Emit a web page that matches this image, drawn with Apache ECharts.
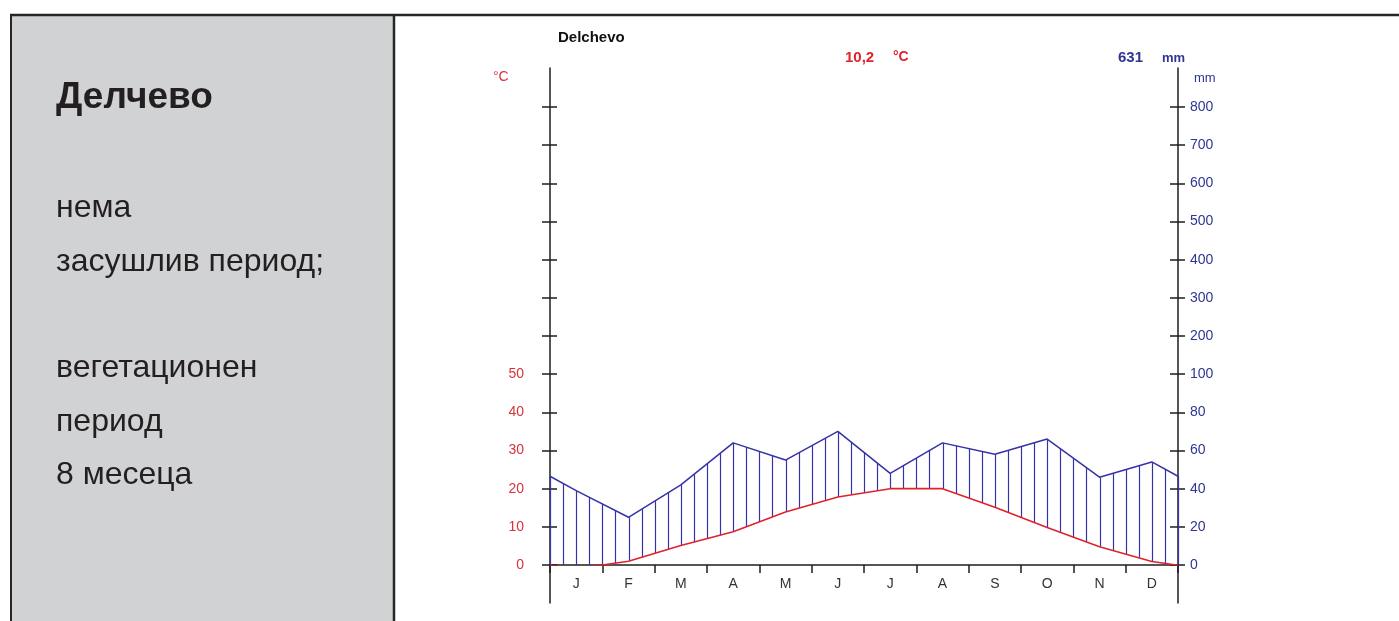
<!DOCTYPE html>
<html>
<head>
<meta charset="utf-8">
<script src="https://cdn.jsdelivr.net/npm/echarts@6/dist/echarts.min.js"></script>
<style>
html,body{margin:0;padding:0;background:#ffffff;}
#chart{width:1399px;height:621px;}
</style>
</head>
<body>
<div id="chart"></div>
<script>
// ---- data ----
const stationName = 'Delchevo';
const stationNameLocal = 'Делчево';
const annualTemp = '10,2';
const annualPrecip = '631';
const infoLines = ['нема', 'засушлив период;', 'вегетационен', 'период', '8 месеца'];
const months = ['J', 'F', 'M', 'A', 'M', 'J', 'J', 'A', 'S', 'O', 'N', 'D'];
const temperature = [-1, 1, 5.1, 8.7, 13.9, 17.8, 20, 20, 15.1, 9.8, 4.8, 0.9];     // °C
const precipitation = [39, 25, 42, 64, 55, 70, 48, 64, 58, 66, 46, 54];            // mm
const tempTickLabels = ['0', '10', '20', '30', '40', '50'];
const precipTickLabels = ['0', '20', '40', '60', '80', '100', '200', '300', '400', '500', '600', '700', '800'];

// Walter-Lieth scale: 10 °C = 20 mm up to 100 mm, then 10 °C = 100 mm
function mmToAxis(mm) { return mm <= 100 ? mm / 2 : 50 + (mm - 100) / 10; }

// monthly values sit at month centres; the curve is closed at the year edges
function monthlyPoints(arr) {
  const edge = (arr[0] + arr[arr.length - 1]) / 2;
  const pts = [[0, edge]];
  arr.forEach((v, i) => pts.push([i + 0.5, v]));
  pts.push([arr.length, edge]);
  return pts;
}
const tempPts = monthlyPoints(temperature);
const precipPts = monthlyPoints(precipitation.map(mmToAxis));

function curveAt(pts, x) {
  for (let k = 0; k < pts.length - 1; k++) {
    const a = pts[k], b = pts[k + 1];
    if (x >= a[0] && x <= b[0]) {
      return a[1] + (b[1] - a[1]) * (x - a[0]) / (b[0] - a[0]);
    }
  }
  return pts[pts.length - 1][1];
}

const RED = '#e0232b';
const LABEL_RED = '#d8343c';
const BLUE = '#3434a8';
const LABEL_BLUE = '#2e3592';
const AXIS = '#1e1e1e';
const FONT = '"Liberation Sans", Arial, sans-serif';
const PANEL_TEXT = '#231f20';

const chart = echarts.init(document.getElementById('chart'), null, { renderer: 'canvas' });

const commonY = { type: 'value', min: 0, max: 120, interval: 10, gridIndex: 0, splitLine: { show: false } };

function panelText(txt, y, size, weight) {
  return { type: 'text', silent: true, x: 56, y: y,
    style: { text: txt, font: (weight || 'normal') + ' ' + size + 'px ' + FONT, fill: PANEL_TEXT,
      textAlign: 'left', textVerticalAlign: 'middle', align: 'left', verticalAlign: 'middle' } };
}

const option = {
  animation: false,
  backgroundColor: '#ffffff',
  textStyle: { fontFamily: FONT },
  grid: [
    { left: 550, right: 221, top: 107, bottom: 56 },
    { left: 550, right: 221, top: 68, bottom: 18 }
  ],
  title: [
    { text: stationName, left: 558, top: 30, padding: 0,
      textStyle: { fontSize: 15, fontWeight: 'bold', color: '#111', fontFamily: FONT } },
    { text: annualTemp, left: 845, top: 50, padding: 0,
      textStyle: { fontSize: 15, fontWeight: 'bold', color: RED, fontFamily: FONT } },
    { text: '°C', left: 893, top: 50, padding: 0,
      textStyle: { fontSize: 14, fontWeight: 'bold', color: RED, fontFamily: FONT } },
    { text: annualPrecip, left: 1118, top: 50, padding: 0,
      textStyle: { fontSize: 15, fontWeight: 'bold', color: LABEL_BLUE, fontFamily: FONT } },
    { text: 'mm', left: 1162, top: 52, padding: 0,
      textStyle: { fontSize: 13, fontWeight: 'bold', color: LABEL_BLUE, fontFamily: FONT } },
    { text: '°C', left: 493, top: 70, padding: 0,
      textStyle: { fontSize: 14, fontWeight: 'normal', color: LABEL_RED, fontFamily: FONT } },
    { text: 'mm', left: 1194, top: 72, padding: 0,
      textStyle: { fontSize: 13, fontWeight: 'normal', color: LABEL_BLUE, fontFamily: FONT } }
  ],
  xAxis: [
    { type: 'value', gridIndex: 0, min: 0, max: 12, interval: 1,
      axisLine: { show: true, onZero: false, lineStyle: { color: AXIS, width: 1.5 } },
      axisTick: { show: true, length: 8, lineStyle: { color: AXIS, width: 1.5 } },
      axisLabel: { show: false }, splitLine: { show: false } },
    { type: 'value', gridIndex: 0, min: 0, max: 12, interval: 1,
      axisLine: { show: false },
      axisTick: { show: true, inside: true, length: 7, lineStyle: { color: AXIS, width: 1.5 } },
      axisLabel: { show: false }, splitLine: { show: false } },
    { type: 'category', gridIndex: 0, data: months, boundaryGap: true, position: 'bottom',
      axisLine: { show: false }, axisTick: { show: false },
      axisLabel: { show: true, margin: 12, color: '#333', fontSize: 14, fontFamily: FONT },
      splitLine: { show: false } },
    { type: 'value', gridIndex: 1, min: 0, max: 12, show: false }
  ],
  yAxis: [
    Object.assign({}, commonY, { position: 'left',
      axisLine: { show: false },
      axisTick: { show: true, length: 8, lineStyle: { color: AXIS, width: 1.5 } },
      axisLabel: { show: true, margin: 26, color: LABEL_RED, fontSize: 14, fontFamily: FONT,
        formatter: v => tempTickLabels[Math.round(v / 10)] || '' } }),
    Object.assign({}, commonY, { position: 'left',
      axisLine: { show: false },
      axisTick: { show: true, inside: true, length: 7, lineStyle: { color: AXIS, width: 1.5 } },
      axisLabel: { show: false } }),
    Object.assign({}, commonY, { position: 'right',
      axisLine: { show: false },
      axisTick: { show: true, length: 7, lineStyle: { color: AXIS, width: 1.5 } },
      axisLabel: { show: true, margin: 12, color: LABEL_BLUE, fontSize: 14, fontFamily: FONT,
        formatter: v => precipTickLabels[Math.round(v / 10)] || '' } }),
    Object.assign({}, commonY, { position: 'right',
      axisLine: { show: false },
      axisTick: { show: true, inside: true, length: 8, lineStyle: { color: AXIS, width: 1.5 } },
      axisLabel: { show: false } }),
    { type: 'value', gridIndex: 1, min: -10, max: 130, position: 'left',
      axisLine: { show: true, lineStyle: { color: AXIS, width: 1.5 } },
      axisTick: { show: false }, axisLabel: { show: false }, splitLine: { show: false } },
    { type: 'value', gridIndex: 1, min: -10, max: 130, position: 'right',
      axisLine: { show: true, lineStyle: { color: AXIS, width: 1.5 } },
      axisTick: { show: false }, axisLabel: { show: false }, splitLine: { show: false } }
  ],
  series: [
    {
      type: 'custom', name: 'humid', xAxisIndex: 0, yAxisIndex: 0, z: 2,
      data: months.map((m, i) => [i, temperature[i], precipitation[i]]),
      renderItem: function (params, api) {
        const i = api.value(0);
        const children = [];
        const n = (i === months.length - 1) ? 5 : 4;
        for (let k = 0; k < n; k++) {
          const x = i + k / 4;
          const t = Math.max(curveAt(tempPts, x), 0);
          const p = curveAt(precipPts, x);
          if (p <= t) continue;
          const a = api.coord([x, t]);
          const b = api.coord([x, p]);
          const px = Math.round(a[0]) + 0.5;
          children.push({ type: 'line', shape: { x1: px, y1: a[1], x2: px, y2: b[1] },
            style: { stroke: BLUE, lineWidth: 1.2 } });
        }
        return { type: 'group', children: children };
      }
    },
    {
      type: 'line', name: 'precipitation', xAxisIndex: 0, yAxisIndex: 0, z: 3,
      data: precipPts, showSymbol: false, symbol: 'none',
      lineStyle: { color: BLUE, width: 1.5 }
    },
    {
      type: 'line', name: 'temperature', xAxisIndex: 0, yAxisIndex: 0, z: 4, clip: true,
      data: tempPts, showSymbol: false, symbol: 'none',
      lineStyle: { color: RED, width: 1.6 }
    }
  ],
  graphic: [
    { type: 'rect', silent: true, z: -10, shape: { x: 12, y: 16, width: 381, height: 605 },
      style: { fill: '#d1d2d4' } },
    { type: 'line', silent: true, shape: { x1: 10, y1: 15, x2: 1399, y2: 15 },
      style: { stroke: '#262626', lineWidth: 2.5 } },
    { type: 'line', silent: true, shape: { x1: 11, y1: 14, x2: 11, y2: 621 },
      style: { stroke: '#262626', lineWidth: 2 } },
    { type: 'line', silent: true, shape: { x1: 394, y1: 14, x2: 394, y2: 621 },
      style: { stroke: '#262626', lineWidth: 2.5 } },
    panelText(stationNameLocal, 98, 37, 'bold'),
    panelText(infoLines[0], 208, 32),
    panelText(infoLines[1], 262, 32),
    panelText(infoLines[2], 368, 32),
    panelText(infoLines[3], 422, 32),
    panelText(infoLines[4], 475, 32)
  ]
};
chart.setOption(option);
</script>
</body>
</html>
